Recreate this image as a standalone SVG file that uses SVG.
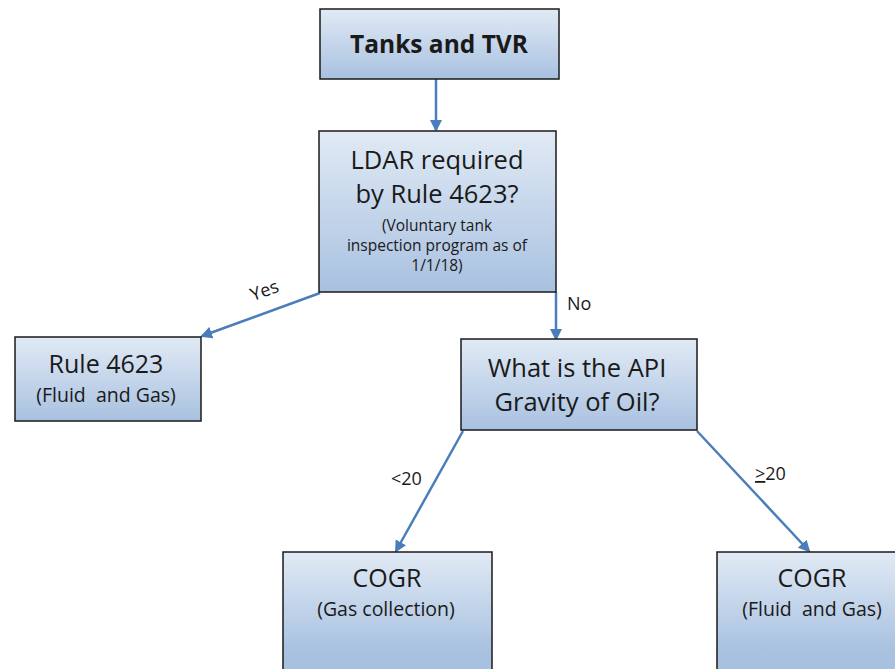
<svg xmlns="http://www.w3.org/2000/svg" width="895" height="669" viewBox="0 0 895 669">
<defs>
<linearGradient id="g" x1="0" y1="0" x2="0" y2="1">
<stop offset="0" stop-color="#e1eaf5"/>
<stop offset="1" stop-color="#a8c1e0"/>
</linearGradient>
<linearGradient id="g2" gradientUnits="userSpaceOnUse" x1="0" y1="552" x2="0" y2="669">
<stop offset="0" stop-color="#e1eaf5"/>
<stop offset="0.85" stop-color="#a8c1e0"/>
<stop offset="1" stop-color="#a8c1e0"/>
</linearGradient>
<marker id="ah" markerWidth="12" markerHeight="12" refX="10" refY="6" orient="auto" markerUnits="userSpaceOnUse" viewBox="0 0 12 12">
<path d="M0,0 L12,6 L0,12 z" fill="#4a7ebb"/>
</marker>
</defs>
<style>
.box{fill:url(#g);stroke:#1a1a1a;stroke-width:1.5}
.box2{fill:url(#g2);stroke:#1a1a1a;stroke-width:1.5}
.t{font-family:"Open Sans","Liberation Sans",sans-serif;fill:#1a1a1a;text-anchor:middle}
.c{stroke:#4a7ebb;stroke-width:2.5;fill:none;marker-end:url(#ah)}
.l{font-family:"Open Sans","Liberation Sans",sans-serif;fill:#1a1a1a;font-size:18px}
</style>
<g id="connectors">
<line class="c" x1="436" y1="79" x2="436" y2="130"/>
<line class="c" x1="320" y1="293" x2="202" y2="336"/>
<line class="c" x1="556" y1="292" x2="556" y2="339"/>
<line class="c" x1="463" y1="431" x2="396" y2="551"/>
<line class="c" x1="697" y1="431" x2="809" y2="551"/>
<text class="l" x="249" y="296" transform="rotate(-20 266 287)">Yes</text>
<text class="l" x="567" y="310" font-size="17">No</text>
<text class="l" x="391" y="485">&lt;20</text>
<text class="l" x="755" y="480"><tspan text-decoration="underline">&gt;</tspan>20</text>
</g>
<g id="n1">
<rect class="box" x="320" y="9" width="239" height="70"/>
<text class="t" x="439" y="53" font-size="24.5" font-weight="bold">Tanks and TVR</text>
</g>
<g id="n2">
<rect class="box" x="319" y="131" width="237" height="161"/>
<text class="t" x="437" y="169" font-size="25.5">LDAR required</text>
<text class="t" x="437" y="203" font-size="25.5">by Rule 4623?</text>
<text class="t" x="437" y="231" font-size="15.5">(Voluntary tank</text>
<text class="t" x="437" y="251" font-size="15.5">inspection program as of</text>
<text class="t" x="437" y="271" font-size="15.5">1/1/18)</text>
</g>
<g id="n3">
<rect class="box" x="15" y="337" width="186" height="84"/>
<text class="t" x="106" y="373" font-size="25">Rule 4623</text>
<text class="t" x="106" y="402" font-size="19.5" xml:space="preserve">(Fluid  and Gas)</text>
</g>
<g id="n4">
<rect class="box" x="461" y="339" width="236" height="91"/>
<text class="t" x="577" y="377" font-size="25.5">What is the API</text>
<text class="t" x="577" y="411" font-size="25.5">Gravity of Oil?</text>
</g>
<g id="n5">
<rect class="box2" x="283" y="552" width="209" height="130"/>
<text class="t" x="387" y="587" font-size="25">COGR</text>
<text class="t" x="386" y="616" font-size="19.5">(Gas collection)</text>
</g>
<g id="n6">
<rect class="box2" x="717" y="552" width="190" height="130"/>
<text class="t" x="812" y="587" font-size="25">COGR</text>
<text class="t" x="812" y="616" font-size="19.5" xml:space="preserve">(Fluid  and Gas)</text>
</g>
</svg>
